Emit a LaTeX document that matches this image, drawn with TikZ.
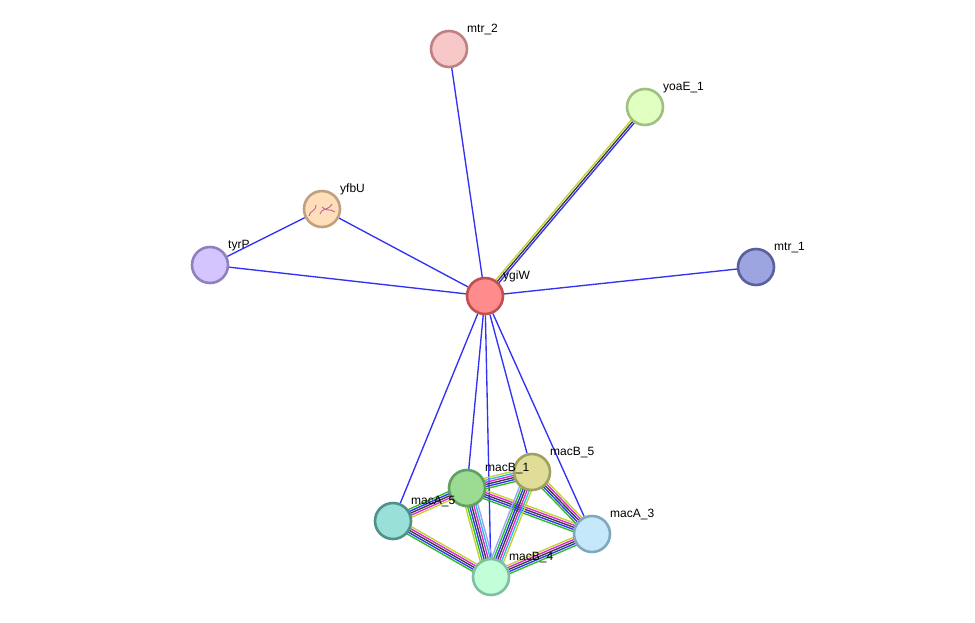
\documentclass[tikz,border=0pt]{standalone}
\usepackage{fontspec}
\setmainfont{Liberation Sans}
\usetikzlibrary{calc,backgrounds}

\definecolor{edgeblue}{RGB}{50,50,245}
\definecolor{tmyellow}{RGB}{195,210,50}
\definecolor{coexblack}{RGB}{60,60,60}
\definecolor{nbgreen}{RGB}{40,190,40}
\definecolor{expmag}{RGB}{220,40,220}
\definecolor{dbcyan}{RGB}{40,190,225}
\definecolor{homblue}{RGB}{160,160,250}
% protein fills and rims
\definecolor{mtrTwoFill}{RGB}{247,200,200}   \definecolor{mtrTwoRim}{RGB}{192,128,128}
\definecolor{yoaEFill}{RGB}{225,255,192}     \definecolor{yoaERim}{RGB}{160,192,128}
\definecolor{yfbUFill}{RGB}{255,222,186}     \definecolor{yfbURim}{RGB}{192,160,128}
\definecolor{tyrPFill}{RGB}{213,197,255}     \definecolor{tyrPRim}{RGB}{144,128,192}
\definecolor{ygiWFill}{RGB}{255,140,140}     \definecolor{ygiWRim}{RGB}{192,80,80}
\definecolor{mtrOneFill}{RGB}{156,165,224}   \definecolor{mtrOneRim}{RGB}{88,96,160}
\definecolor{macBFiveFill}{RGB}{224,221,153} \definecolor{macBFiveRim}{RGB}{160,160,96}
\definecolor{macBOneFill}{RGB}{155,219,146}  \definecolor{macBOneRim}{RGB}{96,160,96}
\definecolor{macAFiveFill}{RGB}{153,224,216} \definecolor{macAFiveRim}{RGB}{80,144,136}
\definecolor{macAThreeFill}{RGB}{197,232,250}\definecolor{macAThreeRim}{RGB}{128,168,192}
\definecolor{macBFourFill}{RGB}{192,255,216} \definecolor{macBFourRim}{RGB}{128,192,160}
\definecolor{sketch}{RGB}{190,100,150}

% parallel evidence lines between two proteins: from, to, count, colours
\newcommand{\bundle}[4]{%
  \foreach \c [count=\i] in {#4} {
    \pgfmathsetmacro\off{(\i-(#3+1)/2)*2.1}
    \draw[edge, color=\c] ($(#1.center)!\off pt!90:(#2.center)$) -- ($(#2.center)!\off pt!-90:(#1.center)$);
  }}

\begin{document}
\begin{tikzpicture}[x=1pt, y=-1pt,
  prot/.style 2 args={circle, minimum size=36pt, inner sep=0pt, line width=2.6pt, fill=#1, draw=#2},
  lbl/.style={anchor=base west, inner sep=0pt, font=\fontsize{12}{14}\selectfont},
  edge/.style={line width=1.35pt}]
\useasboundingbox (0,0) rectangle (975,622);

% proteins
\node[prot={mtrTwoFill}{mtrTwoRim}] (mtr_2) at (449,49) {};
\node[prot={yoaEFill}{yoaERim}] (yoaE_1) at (645,107) {};
\node[prot={yfbUFill}{yfbURim}] (yfbU) at (322,209) {};
\node[prot={tyrPFill}{tyrPRim}] (tyrP) at (210,265) {};
\node[prot={ygiWFill}{ygiWRim}] (ygiW) at (485,296) {};
\node[prot={mtrOneFill}{mtrOneRim}] (mtr_1) at (756,267) {};
\node[prot={macBFiveFill}{macBFiveRim}] (macB_5) at (532,472) {};
\node[prot={macBOneFill}{macBOneRim}] (macB_1) at (467,488) {};
\node[prot={macAFiveFill}{macAFiveRim}] (macA_5) at (393,521) {};
\node[prot={macAThreeFill}{macAThreeRim}] (macA_3) at (592,534) {};
\node[prot={macBFourFill}{macBFourRim}] (macB_4) at (491,577) {};

% structure sketch inside yfbU
\draw[sketch, line width=0.9pt]
  (309,216) .. controls (311,209) and (315,213) .. (316,205)
  (320,214) .. controls (323,207) and (328,211) .. (332,204)
  (322,207) .. controls (326,212) and (330,208) .. (335,212);

% labels
\foreach \n/\t in {mtr_2/mtr\_2, yoaE_1/yoaE\_1, yfbU/yfbU, tyrP/tyrP, ygiW/ygiW, mtr_1/mtr\_1,
                   macB_5/macB\_5, macB_1/macB\_1, macA_5/macA\_5, macA_3/macA\_3, macB_4/macB\_4}
  \node[lbl] (l_\n) at ($(\n)+(18,-17)$) {\t};

\begin{pgfonlayer}{background}
% single blue links
\foreach \a/\b in {ygiW/mtr_2, ygiW/yfbU, ygiW/tyrP, yfbU/tyrP, ygiW/mtr_1, ygiW/macA_5,
                   ygiW/macB_1, ygiW/macB_4, ygiW/macB_5, ygiW/macA_3}
  \draw[edge, edgeblue] (\a) -- (\b);
\bundle{ygiW}{yoaE_1}{3}{edgeblue,coexblack,tmyellow}
% mac cluster
\bundle{macB_1}{macB_5}{6}{nbgreen,edgeblue,coexblack,expmag,dbcyan,tmyellow}
\bundle{macB_1}{macA_5}{5}{nbgreen,edgeblue,coexblack,expmag,tmyellow}
\bundle{macB_1}{macB_4}{7}{tmyellow,nbgreen,edgeblue,coexblack,expmag,dbcyan,homblue}
\bundle{macB_1}{macA_3}{5}{nbgreen,edgeblue,coexblack,expmag,tmyellow}
\bundle{macB_5}{macB_4}{7}{homblue,nbgreen,edgeblue,coexblack,expmag,dbcyan,tmyellow}
\bundle{macB_5}{macA_3}{5}{nbgreen,edgeblue,coexblack,expmag,tmyellow}
\bundle{macA_5}{macB_4}{5}{nbgreen,edgeblue,coexblack,expmag,tmyellow}
\bundle{macB_4}{macA_3}{5}{nbgreen,edgeblue,coexblack,expmag,tmyellow}
\end{pgfonlayer}
\end{tikzpicture}
\end{document}
